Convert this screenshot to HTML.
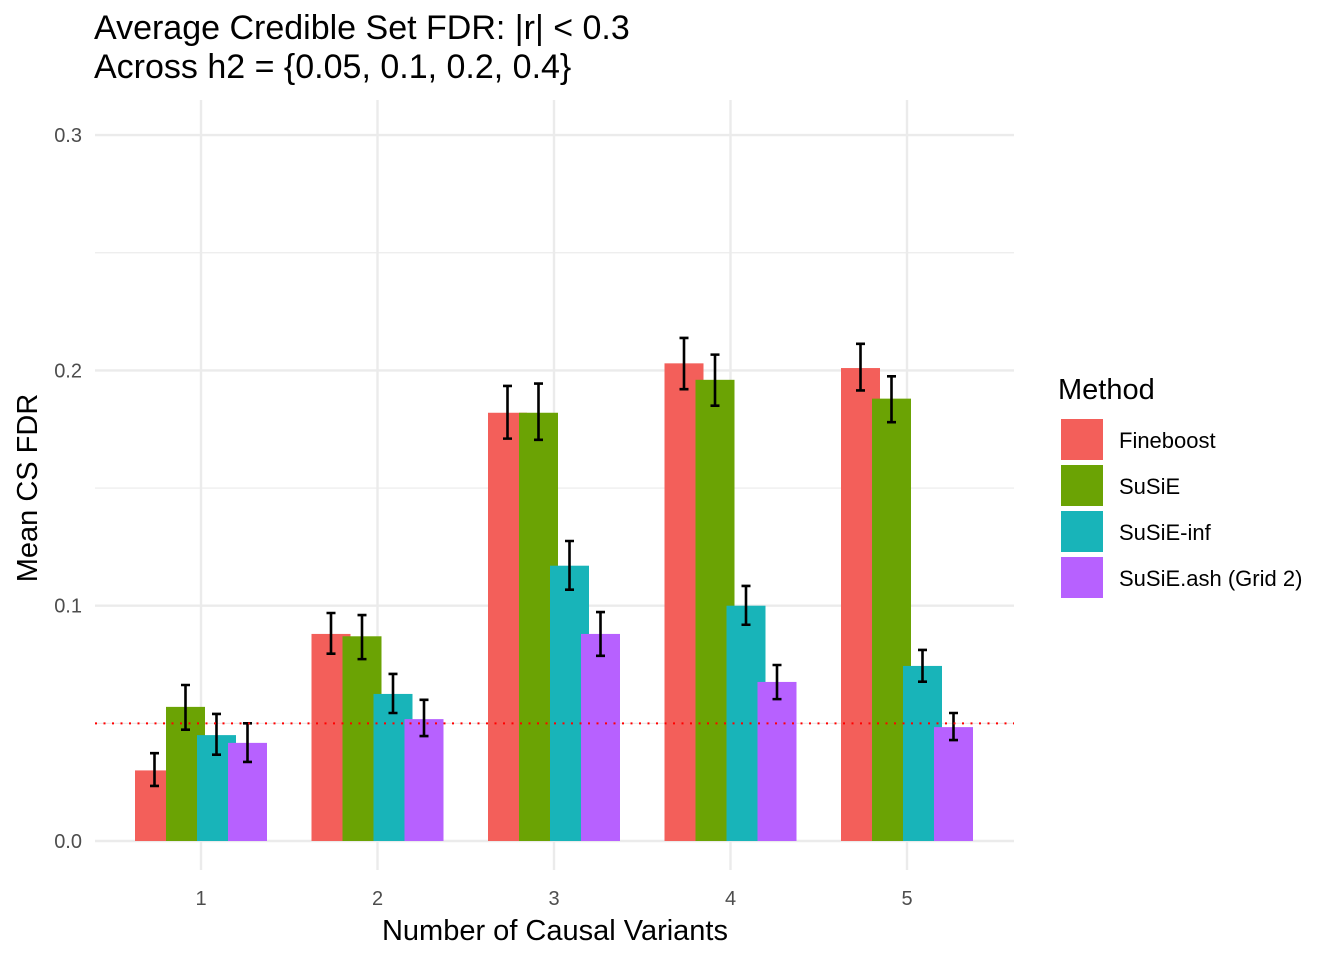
<!DOCTYPE html>
<html><head><meta charset="utf-8"><style>
body{margin:0;background:#fff;font-family:"Liberation Sans",Arial,sans-serif}
svg{display:block}
</style></head><body>
<svg id="chart" width="1344" height="960" font-family="Liberation Sans, Arial, sans-serif">
<text x="94" y="39" font-size="34" fill="#000">Average Credible Set FDR: |r| &lt; 0.3</text>
<text x="94" y="78" font-size="34" fill="#000">Across h2 = {0.05, 0.1, 0.2, 0.4}</text>
<g id="grid"></g>
<g id="bars"></g>
<g id="errs"></g>
<line x1="95" x2="1014" id="ref" stroke="#ff0000" stroke-width="2" stroke-dasharray="2,6.5"/>
<g id="axes"></g>
<text x="555" y="940" font-size="29" text-anchor="middle" fill="#000">Number of Causal Variants</text>
<text transform="translate(37,488) rotate(-90)" font-size="29" text-anchor="middle" fill="#000">Mean CS FDR</text>
<g id="legend">
<text x="1058" y="399" font-size="29" fill="#000">Method</text>
</g>
</svg>
<script>
const categories=["1","2","3","4","5"];
const methods=["Fineboost","SuSiE","SuSiE-inf","SuSiE.ash (Grid 2)"];
const colors=["#F35F5A","#6BA304","#18B4B9","#B761FF"];
const fineboost=[0.030,0.088,0.182,0.203,0.201];
const susie=[0.057,0.087,0.182,0.196,0.188];
const susieInf=[0.045,0.0625,0.117,0.100,0.0744];
const susieAsh=[0.0417,0.0518,0.088,0.0676,0.0484];
const lowFineboost=[0.0234,0.0796,0.171,0.192,0.1915];
const highFineboost=[0.0373,0.0969,0.1934,0.2138,0.2113];
const lowSusie=[0.0473,0.0773,0.1705,0.185,0.178];
const highSusie=[0.0663,0.096,0.1944,0.2067,0.1975];
const lowInf=[0.0367,0.0544,0.1068,0.0919,0.0677];
const highInf=[0.054,0.071,0.1275,0.1084,0.0812];
const lowAsh=[0.0336,0.0446,0.0787,0.0603,0.0429];
const highAsh=[0.050,0.060,0.0973,0.0748,0.0544];
const yTicks=[0,0.1,0.2,0.3];
const yTickLabels=["0.0","0.1","0.2","0.3"];
const yMinor=[0.05,0.15,0.25];
const refValue=0.05;

const NS="http://www.w3.org/2000/svg";
const y=v=>841-v*2353;
const x=i=>201+i*176.5;
function mk(parent,tag,attrs){const e=document.createElementNS(NS,tag);for(const k in attrs)e.setAttribute(k,attrs[k]);document.getElementById(parent).appendChild(e);return e;}
yMinor.forEach(v=>{const l=mk("grid","line",{x1:95,x2:1014,y1:y(v),y2:y(v),stroke:"#ebebeb","stroke-width":1.2});

});
yTicks.forEach((v,i)=>{const l=mk("grid","line",{x1:95,x2:1014,y1:y(v),y2:y(v),stroke:"#ebebeb","stroke-width":2.4});


const t=mk("axes","text",{x:82,y:y(v)+7,"font-size":20,"text-anchor":"end",fill:"#4d4d4d"});t.textContent=yTickLabels[i];

});
categories.forEach((c,i)=>{const l=mk("grid","line",{x1:x(i),x2:x(i),y1:100,y2:870,stroke:"#ebebeb","stroke-width":2.4});


const t=mk("axes","text",{x:x(i),y:905,"font-size":20,"text-anchor":"middle",fill:"#4d4d4d"});t.textContent=c;

});
const ref=document.getElementById("ref");ref.setAttribute("y1",y(refValue));ref.setAttribute("y2",y(refValue));
const series=[fineboost,susie,susieInf,susieAsh];
const lows=[lowFineboost,lowSusie,lowInf,lowAsh];
const highs=[highFineboost,highSusie,highInf,highAsh];
series.forEach((s,m)=>{s.forEach((v,i)=>{
 const bx=x(i)-66+m*31;
 const r=mk("bars","rect",{x:bx,y:y(v),width:39,height:y(0)-y(v),fill:colors[m]});
 
 
});});
series.forEach((s,m)=>{s.forEach((v,i)=>{
 const ex=x(i)+(m-1.5)*31;
 const g=mk("errs","path",{d:`M${ex-4.5},${y(highs[m][i])}H${ex+4.5}M${ex},${y(highs[m][i])}V${y(lows[m][i])}M${ex-4.5},${y(lows[m][i])}H${ex+4.5}`,stroke:"#000","stroke-width":2.6,fill:"none"});
 
 
});});
methods.forEach((n,m)=>{const ky=419+m*46;
 const r=mk("legend","rect",{x:1061,y:ky,width:42,height:41,fill:colors[m]});
 
 
 const t=mk("legend","text",{x:1119,y:ky+29,"font-size":22,fill:"#000"});t.textContent=n;
 
 });
</script>
</body></html>
